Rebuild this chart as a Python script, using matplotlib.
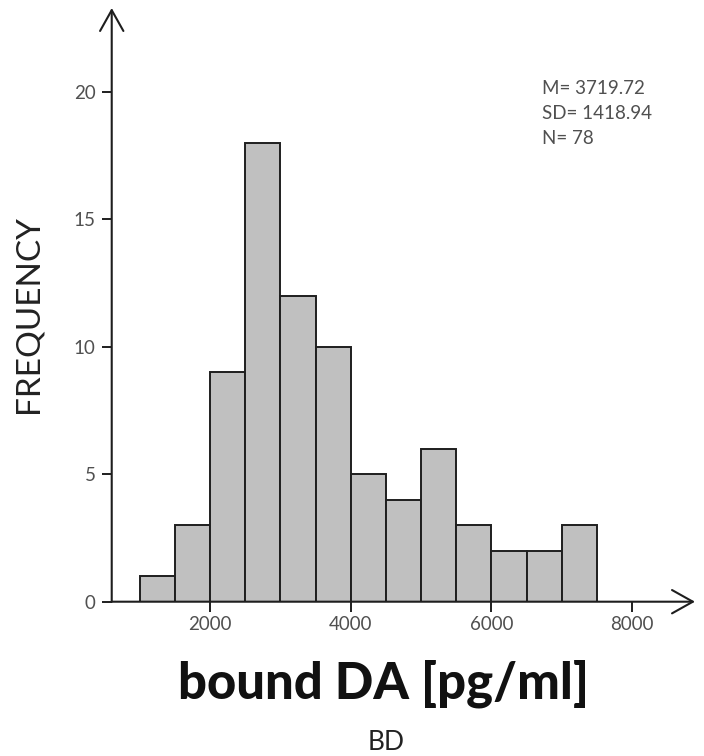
import numpy as np
import matplotlib
matplotlib.use('Agg')
import matplotlib.pyplot as plt
from matplotlib.patches import FancyArrowPatch

# histogram data (bin edges + counts)
bin_edges = [1000, 1500, 2000, 2500, 3000, 3500, 4000, 4500, 5000, 5500, 6000, 6500, 7000, 7500]
counts = [1, 3, 9, 18, 12, 10, 5, 4, 6, 3, 2, 2, 3]
xticks = [2000, 4000, 6000, 8000]
yticks = [0, 5, 10, 15, 20]
stats_lines = ['M= 3719.72', 'SD= 1418.94', 'N= 78']

plt.rcParams['font.family'] = ['Lato', 'DejaVu Sans']

fig = plt.figure(figsize=(7.04, 7.56), dpi=100)
ax = fig.add_axes([0.1587, 0.2041, 0.8285, 0.7853])

xmin, xmax = 603, 8894
ymin, ymax = 0, 23.3
ax.set_xlim(xmin, xmax)
ax.set_ylim(ymin, ymax)

lefts = np.array(bin_edges[:-1])
widths = np.diff(bin_edges)
ax.bar(lefts, counts, width=widths, align='edge', color='#c0c0c0',
       edgecolor='#1e1e1e', linewidth=1.4, zorder=2)

for s in ax.spines.values():
    s.set_visible(False)

# axes with open arrow heads
style = '->,head_length=0.75,head_width=0.42'
for xy0, xy1 in [((xmin, 0), (xmax, 0)), ((xmin, 0), (xmin, ymax))]:
    arr = FancyArrowPatch(xy0, xy1, arrowstyle=style, mutation_scale=20,
                          color='#1e1e1e', linewidth=1.5, shrinkA=0, shrinkB=0,
                          clip_on=False, zorder=3)
    ax.add_patch(arr)

ax.set_xticks(xticks)
ax.set_yticks(yticks)
ax.tick_params(axis='both', length=7, width=1.4, color='#1e1e1e',
               labelsize=13.5, labelcolor='#505050')
ax.tick_params(axis='x', pad=3.5)
ax.tick_params(axis='y', pad=4.5)

# stats
for i, line in enumerate(stats_lines):
    fig.text(542/704, 1 - (89 + i*24.5)/756, line, fontsize=13.5, color='#505050',
             va='center', ha='left')

fig.text(29/704, 1 - 314/756, 'FREQUENCY', rotation=90, fontsize=24,
         color='#222222', va='center', ha='center')
fig.text(384/704, 1 - 698/756, 'bound DA [pg/ml]', fontsize=36.5,
         color='#111111', va='baseline', ha='center', fontweight='black')
fig.text(386/704, 1 - 750/756, 'BD', fontsize=19, color='#222222',
         va='baseline', ha='center')

fig.savefig('out.png', dpi=100)
